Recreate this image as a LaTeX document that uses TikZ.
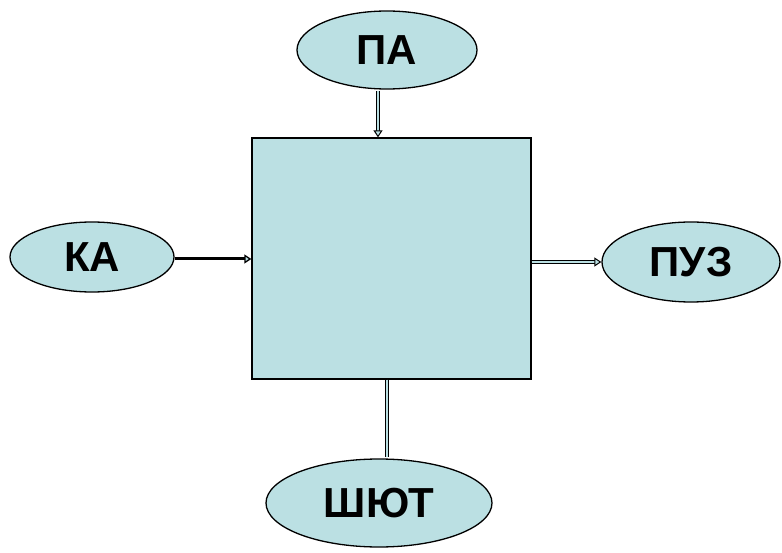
\documentclass[tikz,border=0pt]{standalone}
\usepackage{fontspec}
\setmainfont{Liberation Sans}
\usetikzlibrary{arrows.meta,shapes.geometric}
\definecolor{boxcol}{RGB}{187,224,227}
\begin{document}
\begin{tikzpicture}[x=1pt,y=-1pt,
  oval/.style={ellipse, draw=black, line width=1.3pt, fill=boxcol, inner sep=0pt,
    font=\fontsize{42}{48}\selectfont\bfseries},
  block/.style={draw=black, line width=1.3pt, fill=boxcol},
  conn/.style={draw=black, line width=1pt, double=boxcol, double distance=2.4pt},
  thinconn/.style={draw=black, line width=1.3pt, double=black, double distance=0.4pt},
  tip/.style={-{Triangle[open,length=7pt,width=9pt,fill=boxcol]}}
]
\useasboundingbox (0,0) rectangle (782,553);
\node[block, minimum width=279pt, minimum height=241pt] (box) at (391.5,258.5) {};
\node[oval, minimum width=180pt, minimum height=78pt] (pa) at (387,50) {ПА};
\node[oval, minimum width=164pt, minimum height=70pt] (ka) at (92,257) {КА};
\node[oval, minimum width=178pt, minimum height=80pt] (puz) at (691,262) {ПУЗ};
\node[oval, minimum width=226pt, minimum height=88pt] (shyut) at (379,503) {ШЮТ};
\draw[conn, tip] ([xshift=-9pt,yshift=-1pt]pa.south) -- ([xshift=-9pt]pa.south |- box.north);
\draw[thinconn, tip] ([yshift=-2pt]ka.east) -- ([yshift=-2pt]ka.east -| box.west);
\draw[conn, tip] (box.east |- puz.west) -- (puz.west);
\draw[conn] ([xshift=8pt]shyut.north |- box.south) -- ([xshift=8pt,yshift=1pt]shyut.north);
\end{tikzpicture}
\end{document}
